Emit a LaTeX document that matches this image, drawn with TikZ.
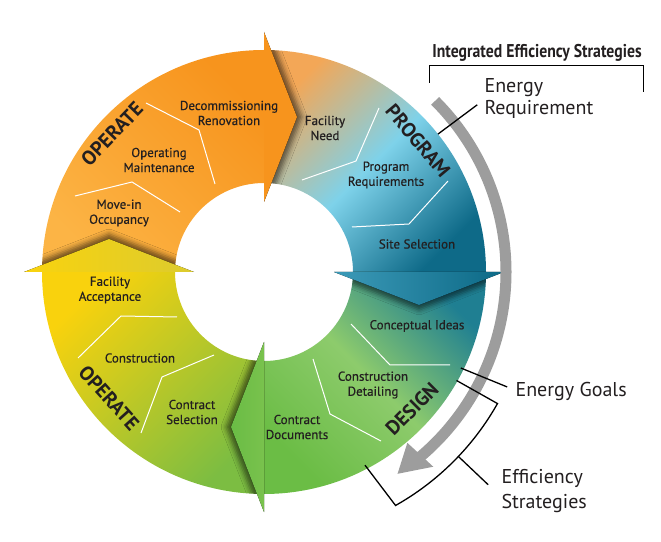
\documentclass[tikz,border=0pt]{standalone}
\usepackage{fontspec}
\setmainfont{PT Sans}
\newfontfamily\lblfont[FakeBold=0.5]{PT Sans}
\newfontfamily\headfont[FakeStretch=0.85]{PT Sans}
\usetikzlibrary{calc,shadows.blur}

\definecolor{orgDeep}{HTML}{F7941D}
\definecolor{orgLight}{HTML}{FCB445}
\definecolor{prgTop}{HTML}{F3A757}
\definecolor{prgMid}{HTML}{7ED2EA}
\definecolor{prgBot}{HTML}{0E6A88}
\definecolor{dsgTop}{HTML}{1F7F92}
\definecolor{dsgMid}{HTML}{8DCB6C}
\definecolor{dsgBot}{HTML}{6BBD45}
\definecolor{opsTop}{HTML}{F9D20D}
\definecolor{opsBot}{HTML}{7CBD42}
\definecolor{tealA}{HTML}{3C9AB8}
\definecolor{tealB}{HTML}{0C6986}
\definecolor{greenA}{HTML}{6ABC45}
\definecolor{greenB}{HTML}{79C24D}
\definecolor{yelA}{HTML}{F9D30E}
\definecolor{yelB}{HTML}{DCCB2E}
\definecolor{arrowGray}{HTML}{9D9D9D}
\definecolor{ink}{HTML}{231F20}

\begin{document}
\begin{tikzpicture}[x=1pt,y=1pt,
  lbl/.style={font=\lblfont\fontsize{13}{15}\selectfont, text=ink, align=center},
  phase/.style={font=\fontsize{20}{20}\selectfont\bfseries, text=ink},
  callout/.style={font=\fontsize{20}{22}\selectfont, text=ink, align=left, anchor=west},
  divider/.style={white, line width=1},
  lead/.style={black, line width=1.3}]
\useasboundingbox (0,0) rectangle (661,541);
\coordinate (c) at (264,269);

% ring quarters
\shade[top color=orgDeep, bottom color=orgLight, shading angle=-45]
  ($(c)+(180:222)$) arc[start angle=180,end angle=90,radius=222] -- ($(c)+(90:89)$) arc[start angle=90,end angle=180,radius=89] -- cycle;
\shade[top color=prgTop, bottom color=prgBot, middle color=prgMid, shading angle=45]
  ($(c)+(90:222)$) arc[start angle=90,end angle=0,radius=222] -- ($(c)+(0:89)$) arc[start angle=0,end angle=90,radius=89] -- cycle;
\shade[top color=dsgTop, bottom color=dsgBot, middle color=dsgMid, shading angle=-45]
  ($(c)+(0:222)$) arc[start angle=0,end angle=-90,radius=222] -- ($(c)+(-90:89)$) arc[start angle=-90,end angle=0,radius=89] -- cycle;
\shade[top color=opsTop, bottom color=opsBot, shading angle=45]
  ($(c)+(-90:222)$) arc[start angle=-90,end angle=-180,radius=222] -- ($(c)+(-180:89)$) arc[start angle=-180,end angle=-90,radius=89] -- cycle;

% arrow shadows, kept on the ring
\begin{scope}
  \clip ($(c)+(222,0)$) arc[start angle=0,end angle=360,radius=222]
        -- ($(c)+(89,0)$) arc[start angle=0,end angle=-360,radius=89] -- cycle;
  \foreach \a/\sx/\sy in {90/5/0, 0/0/-5, 270/-5/0, 180/0/5}
    \path[blur shadow={shadow xshift=\sx, shadow yshift=\sy, shadow blur radius=5, shadow opacity=55}]
      ($(c)+(\a:70)$) -- ($(c)+(\a:155)+({\a-90}:33)$) -- ($(c)+(\a:240)$) -- cycle;
\end{scope}

% arrow heads
\foreach \a/\ca/\cb in {90/orgDeep/orgDeep, 0/tealA/tealB, 270/greenA/greenB, 180/yelA/yelB}
  \fill[left color=\ca, right color=\cb]
    ($(c)+(\a:70)$) -- ($(c)+(\a:155)+({\a-90}:33)$) -- ($(c)+(\a:240)$) -- cycle;

% dividers
\draw[divider] (146,438) -- (199,411) -- (215,357);
\draw[divider] (75,345) -- (132,359) -- (180,329);
\draw[divider] (379,433) -- (356,380) -- (302,361);
\draw[divider] (448,360) -- (409,317) -- (352,314);
\draw[divider] (351,217) -- (390,176) -- (450,176);
\draw[divider] (313,182) -- (330,127) -- (381,100);
\draw[divider] (78,183) -- (121,225) -- (177,224);
\draw[divider] (141,108) -- (162,164) -- (214,186);

% phases
\node[phase, rotate=46] (operateA) at (112,407) {OPERATE};
\node[phase, rotate=-50] (program) at (418,400) {PROGRAM};
\node[phase, rotate=45] (design) at (412,132) {DESIGN};
\node[phase, rotate=-48] (operateB) at (109,143) {OPERATE};

% steps
\node[lbl] (decom) at (229,428) {Decommissioning\\Renovation};
\node[lbl] (operating) at (159,381) {Operating\\Maintenance};
\node[lbl] (movein) at (119,328) {Move-in\\Occupancy};
\node[lbl] (need) at (325,413) {Facility\\Need};
\node[lbl] (progreq) at (386,366) {Program\\Requirements};
\node[lbl] (site) at (417,297) {Site Selection};
\node[lbl] (concept) at (417,215) {Conceptual Ideas};
\node[lbl] (detail) at (373,156) {Construction\\Detailing};
\node[lbl] (docs) at (297,114) {Contract\\Documents};
\node[lbl] (accept) at (110,251) {Facility\\Acceptance};
\node[lbl] (constr) at (140,183) {Construction};
\node[lbl] (select) at (192,129) {Contract\\Selection};

% strategy arrow
\draw[arrowGray, line width=11] ($(c)+(45:242)$) arc[start angle=45,end angle=-50.5,radius=242];
\fill[arrowGray] ($(c)+(-50:223)$) -- ($(c)+(-56.5:242)$) -- ($(c)+(-49:258)$) -- cycle;

% callouts
\node[font=\headfont\bfseries\fontsize{18.5}{19}\selectfont, text=ink] (ies) at (537,488) {Integrated Efficiency Strategies};
\draw[lead, line width=0.9] (429,458) -- (429,476) -- (643,476) -- (643,449);

\node[callout] (energyreq) at (481,442) {Energy\\Requirement};
\coordinate (erIn) at ($(c)+(38.4:222)$);
\coordinate (erOut) at ($(c)+(38.1:271)$);
\draw[lead] (erIn) -- (erOut);

\node[callout] (goals) at (512,149) {Energy Goals};
\coordinate (egIn) at ($(c)+(-26:219)$);
\coordinate (egOut) at ($(c)+(-25.3:269)$);
\draw[lead] (egIn) -- (egOut);

\node[callout, font=\fontsize{20}{25}\selectfont] (effstrat) at (498,50) {Efficiency\\Strategies};
\coordinate (esTop) at ($(c)+(-29.4:221)$);
\coordinate (esBot) at ($(c)+(-62.4:218)$);
\coordinate (esMid) at ($(c)+(-43.5:268)$);
\coordinate (esOut) at ($(c)+(-43.5:309)$);
\draw[lead] (esTop) -- ($(c)+(-29.4:268)$) arc[start angle=-29.4,end angle=-60.6,radius=268] -- (esBot);
\draw[lead] (esMid) -- (esOut);
\end{tikzpicture}
\end{document}
